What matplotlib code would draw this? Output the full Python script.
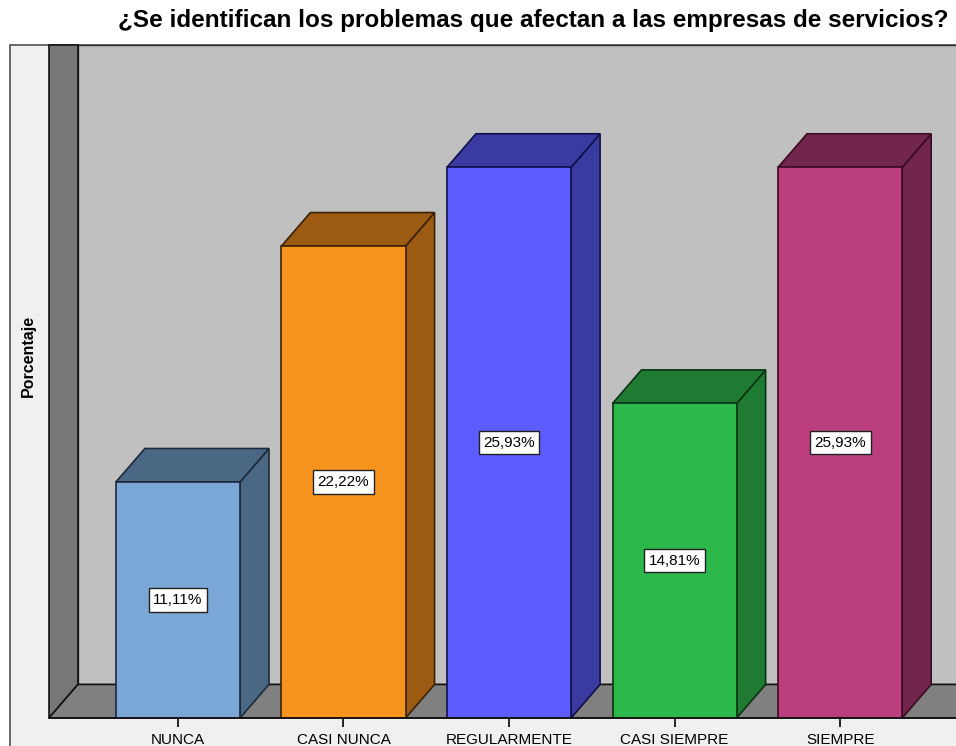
import matplotlib
matplotlib.use("Agg")
import matplotlib.pyplot as plt
from matplotlib.patches import Polygon, Rectangle

# survey answers and their percentages
categorias = ["NUNCA", "CASI NUNCA", "REGULARMENTE", "CASI SIEMPRE", "SIEMPRE"]
porcentajes = [11.11, 22.22, 25.93, 14.81, 25.93]
etiquetas = ["11,11%", "22,22%", "25,93%", "14,81%", "25,93%"]

color_frente = ["#7ba7d6", "#f7941d", "#5c5cff", "#2db84b", "#bb3e7f"]
color_lado = ["#4a6784", "#9c5a12", "#3a3aa0", "#1f7a32", "#72264e"]
color_borde = ["#1c2a3a", "#3a2205", "#10104a", "#0b3214", "#3a0b22"]

titulo = "¿Se identifican los problemas que afectan a las empresas de servicios?"

plt.rcParams["font.family"] = ["Liberation Sans", "DejaVu Sans"]

W, H = 956, 746
fig = plt.figure(figsize=(W / 100, H / 100), dpi=100)

# background panel in pixel units
bg = fig.add_axes([0, 0, 1, 1])
bg.set_xlim(0, W)
bg.set_ylim(H, 0)
bg.axis("off")
bg.add_patch(Rectangle((10, 45), W, H, facecolor="#f0f0f0",
                       edgecolor="#505050", lw=1.2))

fig.text(533 / W, 1 - 20 / H, titulo, ha="center", va="center",
         fontsize=17.5, fontweight="bold")
fig.text(28 / W, 1 - 356 / H, "Porcentaje", rotation=90, ha="center",
         va="center", fontsize=11.5, fontweight="bold")

# main axes: front plane of the 3d box
ax = fig.add_axes([49 / W, 28 / H, (W - 49) / W, (718 - 45) / H])
ax.patch.set_alpha(0)
xmin, xmax = -0.779, 4.70
ymax = 31.69
ax.set_xlim(xmin, xmax)
ax.set_ylim(0, ymax)
for s in ax.spines.values():
    s.set_visible(False)

dx, dy = 0.175, 1.58   # depth offset of the 3d effect
ancho = 0.75

# walls and floor
ax.add_patch(Rectangle((xmin + dx, dy), xmax - xmin, ymax - dy,
                       facecolor="#c0c0c0", edgecolor="#333333", lw=1.0,
                       clip_on=False, zorder=1))
ax.add_patch(Polygon([(xmin, 0), (xmin + dx, dy), (xmin + dx, ymax), (xmin, ymax)],
                     closed=True, facecolor="#777777", edgecolor="#111111",
                     lw=1.2, clip_on=False, zorder=2))
ax.add_patch(Polygon([(xmin, 0), (xmax + 1, 0), (xmax + 1 + dx, dy), (xmin + dx, dy)],
                     closed=True, facecolor="#808080", edgecolor="#111111",
                     lw=1.2, clip_on=False, zorder=2))

for i, v in enumerate(porcentajes):
    x0, x1 = i - ancho / 2, i + ancho / 2
    ax.add_patch(Polygon([(x1, 0), (x1 + dx, dy), (x1 + dx, v + dy), (x1, v)],
                         closed=True, facecolor=color_lado[i],
                         edgecolor=color_borde[i], lw=1.2, zorder=3))
    ax.add_patch(Polygon([(x0, v), (x1, v), (x1 + dx, v + dy), (x0 + dx, v + dy)],
                         closed=True, facecolor=color_lado[i],
                         edgecolor=color_borde[i], lw=1.2, zorder=3))
    ax.add_patch(Rectangle((x0, 0), ancho, v, facecolor=color_frente[i],
                           edgecolor=color_borde[i], lw=1.2, zorder=4))
    ax.text(i, v / 2, etiquetas[i], ha="center", va="center", fontsize=11,
            zorder=5, bbox=dict(boxstyle="square,pad=0.3", facecolor="white",
                                edgecolor="#222222", lw=1.0))

ax.plot([xmin, xmax], [0, 0], color="#111111", lw=1.2, clip_on=False, zorder=4)

ax.set_xticks(range(len(categorias)))
ax.set_xticklabels(categorias, fontsize=11)
ax.tick_params(axis="x", direction="out", length=6.5, width=1.2, pad=4)
ax.set_yticks([])

fig.savefig("out.png", dpi=100)
